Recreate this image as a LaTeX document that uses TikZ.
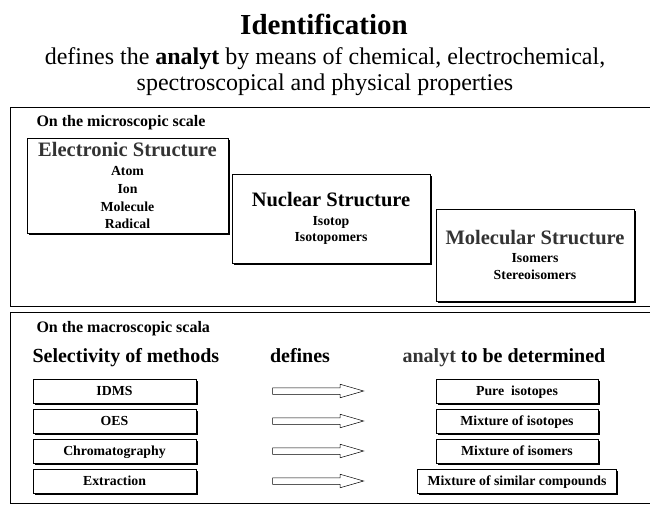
\documentclass[tikz,border=0pt]{standalone}
\usepackage{fontspec}
\setmainfont{Liberation Serif}
\usetikzlibrary{shapes.arrows,shadows}

\begin{document}
\begin{tikzpicture}
	[x=1pt,y=-1pt,
	 shadowed/.style={draw,fill=white,line width=.5pt,inner sep=0pt,
	  drop shadow={shadow xshift=1.5pt,shadow yshift=-1.5pt,fill=black,opacity=1}},
	 box/.style={shadowed,align=center},
	 rowbox/.style={shadowed,item,minimum height=24pt,text height=10.4pt,text depth=1.6pt},
	 item/.style={font=\fontsize{13.8}{16.8}\selectfont\bfseries},
	 head/.style={font=\fontsize{20}{24}\selectfont\bfseries},
	 scalelabel/.style={font=\fontsize{16}{19}\selectfont\bfseries,anchor=base west},
	 subline/.style={font=\fontsize{24}{26}\selectfont,anchor=base},
	 panel/.style={draw,line width=.8pt},
	 fatarrow/.style={draw,line width=.5pt,single arrow,minimum height=91pt,minimum width=13pt,
	  inner sep=3pt,single arrow head extend=3.5pt,single arrow tip angle=32}]

\useasboundingbox (0,0) rectangle (650,504);

\node[font=\fontsize{29}{34}\selectfont\bfseries,anchor=base] (title) at (324,34) {Identification};
\node[subline] (sub1) at (325,64) {defines the \textbf{analyt} by means of chemical, electrochemical,};
\node[subline] (sub2) at (325,90) {spectroscopical and physical properties};

% microscopic
\draw[panel] (10,107) rectangle (652,306);
\node[scalelabel] (micro) at (33,126) {On the microscopic scale};

\node[box,item,minimum width=201pt,minimum height=95pt] (elec) at (127.5,185.5)
	{{\fontsize{20.5}{24}\selectfont\color{black!80}Electronic Structure}\\[2.5pt] Atom\\[1pt] Ion\\[1pt] Molecule\\[1pt] Radical};
\node[box,item,minimum width=198pt,minimum height=89pt] (nuc) at (331,218.5)
	{{\fontsize{20.5}{24}\selectfont Nuclear Structure}\\[2pt] Isotop\\ Isotopomers};
\node[box,item,minimum width=198pt,minimum height=92pt] (mol) at (535,255)
	{{\fontsize{20.5}{24}\selectfont\color{black!80}Molecular Structure}\\[1pt] Isomers\\ Stereoisomers};

% macroscopic
\draw[panel] (10,312) rectangle (652,503);
\node[scalelabel] (macro) at (33,332) {On the macroscopic scala};
\node[head,anchor=base west] (sel) at (29,362) {Selectivity of methods};
\node[head,anchor=base] (def) at (300,362) {defines};
\node[head,anchor=base] (det) at (504,362) {\textcolor{black!80}{analyt} to be determined};

	\foreach \m/\r/\w [count=\ii] in {IDMS/Pure~ isotopes/162,OES/Mixture of isotopes/162,
	 Chromatography/Mixture of isomers/162,Extraction/Mixture of similar compounds/199}
	{
	 \node[rowbox,minimum width=163pt] (m\ii) at (114.5,361+30*\ii) {\m};
	 \node[fatarrow] (a\ii) at (312.5,361+30*\ii) {};
	 \node[rowbox,minimum width=\w pt] (r\ii) at (517,361+30*\ii) {\r};
	}

\end{tikzpicture}
\end{document}
